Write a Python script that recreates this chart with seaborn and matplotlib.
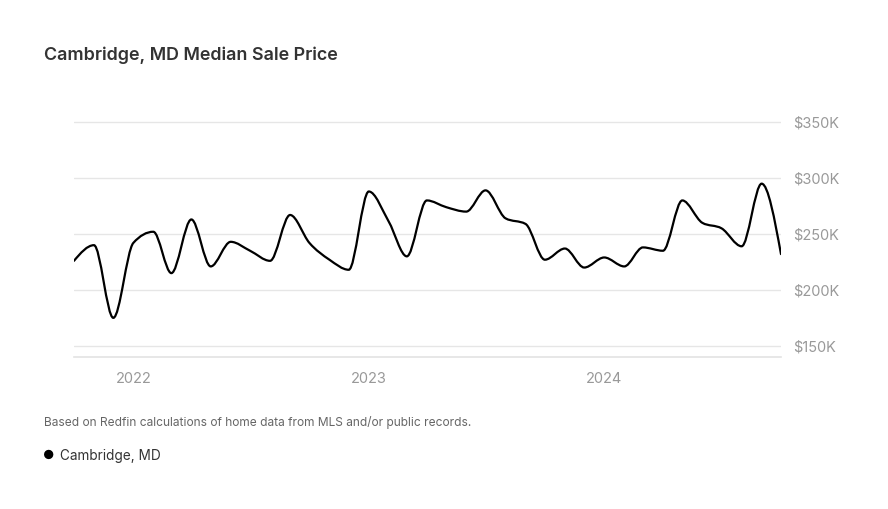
import numpy as np
import pandas as pd
import matplotlib
matplotlib.use("Agg")
import matplotlib.pyplot as plt
import matplotlib.dates as mdates
from matplotlib.path import Path
from matplotlib.patches import PathPatch
from matplotlib.ticker import FuncFormatter
import seaborn as sns

# monthly median sale price, Oct 2021 - Oct 2024 (in $K)
months = pd.date_range("2021-10-01", "2024-10-01", freq="MS")
prices = [226, 240, 175, 242, 252, 215, 263, 221, 243, 235, 226, 267,
          242, 227, 218, 288, 261, 230, 280, 274, 270, 289, 264, 259,
          227, 237, 220, 229, 221, 238, 235, 280, 260, 255, 239, 295, 232]
year_ticks = ["2022-01-01", "2023-01-01", "2024-01-01"]
year_labels = ["2022", "2023", "2024"]
y_ticks = [150000, 200000, 250000, 300000, 350000]

df = pd.DataFrame({"month": months, "price": np.array(prices) * 1000})

sns.set_theme(style="white")
plt.rcParams["font.family"] = ["Inter", "DejaVu Sans"]

fig = plt.figure(figsize=(8.88, 5.09), dpi=100)
ax = fig.add_axes([0.0833, 0.2986, 0.7962, 0.4834])

ax = sns.lineplot(data=df, x="month", y="price", color="black", linewidth=1.6, ax=ax)

# smooth the line like a monotone-x curve (bezier segments between the data points)
line = ax.lines[0]
xy = np.column_stack([mdates.date2num(df["month"]), df["price"].values])
x, y = xy[:, 0], xy[:, 1]
n = len(x)
h = np.diff(x)
s = np.diff(y) / h
t = np.zeros(n)
for i in range(1, n - 1):
    p = (s[i - 1] * h[i] + s[i] * h[i - 1]) / (h[i - 1] + h[i])
    t[i] = (np.sign(s[i - 1]) + np.sign(s[i])) * min(abs(s[i - 1]), abs(s[i]), 0.5 * abs(p))
t[0] = (3 * s[0] - t[1]) / 2
t[-1] = (3 * s[-1] - t[-2]) / 2
verts = [(x[0], y[0])]
codes = [Path.MOVETO]
for i in range(n - 1):
    dx = h[i] / 3
    verts += [(x[i] + dx, y[i] + dx * t[i]), (x[i + 1] - dx, y[i + 1] - dx * t[i + 1]), (x[i + 1], y[i + 1])]
    codes += [Path.CURVE4] * 3
ax.add_patch(PathPatch(Path(verts, codes), fill=False, edgecolor="black", linewidth=1.6,
                       capstyle="round", joinstyle="round", zorder=3))
line.remove()

ax.set_xlim(mdates.date2num(pd.Timestamp("2021-10-01")), mdates.date2num(pd.Timestamp("2024-10-01")))
ax.set_ylim(140000, 360000)

ax.set_xticks(mdates.date2num(pd.to_datetime(year_ticks)))
ax.set_xticklabels(year_labels)
ax.set_yticks(y_ticks)
ax.yaxis.set_major_formatter(FuncFormatter(lambda v, pos: f"${int(v / 1000)}K"))
ax.yaxis.tick_right()
ax.tick_params(axis="both", length=0, labelsize=10.5, labelcolor="#999999")
ax.tick_params(axis="x", pad=10.5)
ax.tick_params(axis="y", pad=9)
ax.set_xlabel("")
ax.set_ylabel("")

ax.grid(axis="y", color="#e6e6e6", linewidth=1)
ax.grid(axis="x", visible=False)
for side in ["top", "left", "right"]:
    ax.spines[side].set_visible(False)
ax.spines["bottom"].set_color("#e3e3e3")
ax.spines["bottom"].set_linewidth(1.2)

fig.text(0.0495, 0.892, "Cambridge, MD Median Sale Price", fontsize=12.9, fontweight="semibold",
         color="#333333", va="center", ha="left")
fig.text(0.0495, 0.1705, "Based on Redfin calculations of home data from MLS and/or public records.",
         fontsize=8.6, color="#666666", va="center", ha="left")
fig.text(0.0552, 0.1035, "\u25cf", fontsize=9, color="black", va="center", ha="center")
fig.text(0.0676, 0.1035, "Cambridge, MD", fontsize=9.8, color="#333333", va="center", ha="left")

fig.savefig("out.png", dpi=100)
